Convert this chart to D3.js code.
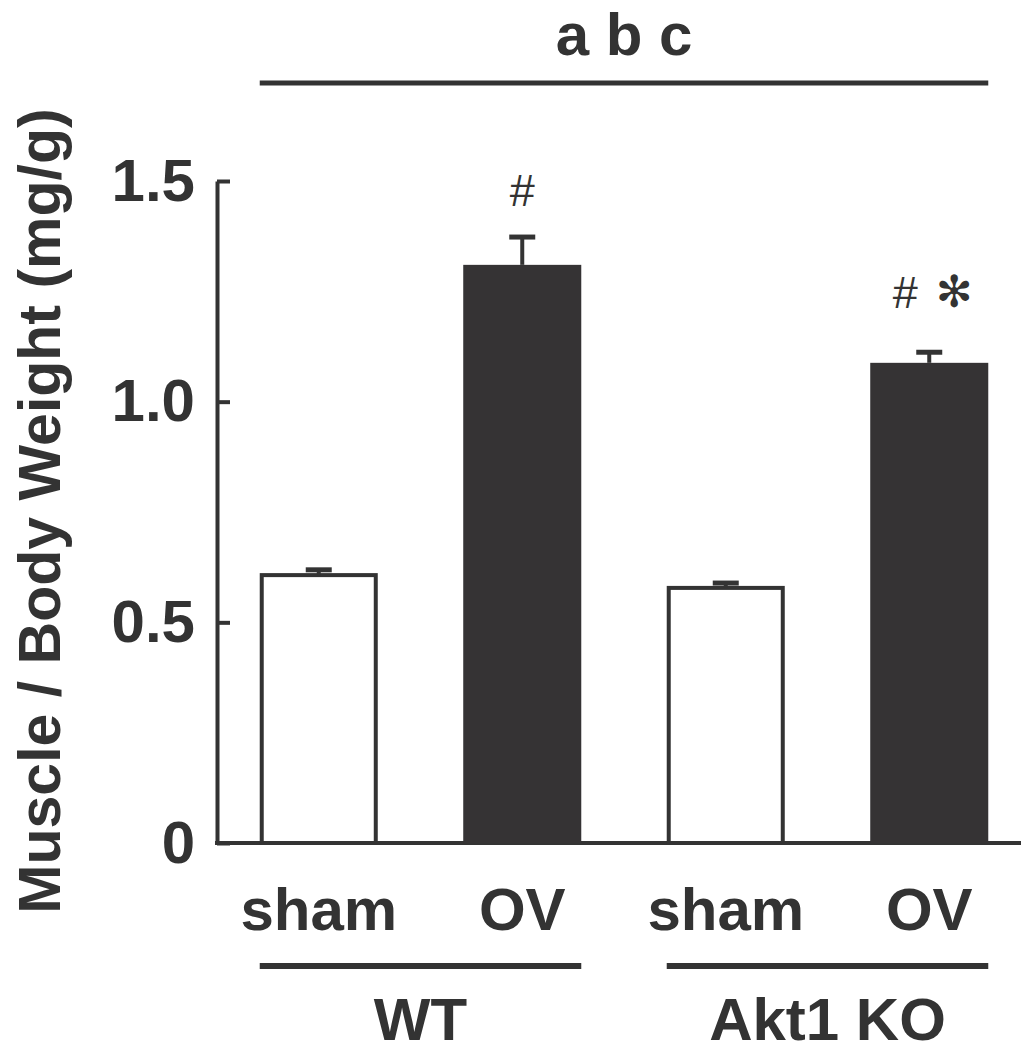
<!DOCTYPE html>
<html>
<head>
<meta charset="utf-8">
<script src="https://cdn.jsdelivr.net/npm/d3@7"></script>
<style>
  html, body { margin: 0; padding: 0; background: #fff; }
  svg { display: block; }
  text { font-family: "Liberation Sans", Arial, Helvetica, sans-serif; fill: #333; }
</style>
</head>
<body>
<svg id="chart" width="1021" height="1052"></svg>
<script>
// ---- data ----
const categories = ["WT sham", "WT OV", "Akt1 KO sham", "Akt1 KO OV"];
const conditionLabels = ["sham", "OV", "sham", "OV"];
const groups = ["WT", "Akt1 KO"];
const groupMembers = [["WT sham", "WT OV"], ["Akt1 KO sham", "Akt1 KO OV"]];
const values = [0.607, 1.31, 0.578, 1.088];
const errors = [0.012, 0.063, 0.011, 0.024];
const filled = [false, true, false, true];
const marks = ["", "#", "", "#"];
const stars = ["", "", "", "✻"];
const yTicks = [0, 0.5, 1.0, 1.5];
const yTickLabels = ["0", "0.5", "1.0", "1.5"];
const yLabel = "Muscle / Body Weight (mg/g)";
const topLabel = "a b c";

// ---- layout ----
const ink = "#333333";
const svg = d3.select("#chart");
const x = d3.scaleBand().domain(categories).range([217, 1031]).paddingInner(0.42).paddingOuter(0.21);
const y = d3.scaleLinear().domain([0, 1.5]).range([843, 181]);

// y axis
const yAxis = d3.axisLeft(y)
  .tickValues(yTicks)
  .tickFormat((d, i) => yTickLabels[i])
  .tickSizeInner(-13)
  .tickSizeOuter(0)
  .tickPadding(22);
const gy = svg.append("g").attr("transform", "translate(217,0)").call(yAxis);
gy.select(".domain").attr("stroke", ink).attr("stroke-width", 4);
gy.selectAll(".tick line").attr("stroke", ink).attr("stroke-width", 4);
gy.selectAll(".tick text")
  .attr("fill", ink)
  .style("font-size", "60px")
  .style("font-weight", "bold")
  .style("font-family", '"Liberation Sans", Arial, sans-serif');

// x axis baseline
svg.append("line")
  .attr("x1", 215).attr("x2", 1021)
  .attr("y1", y(0)).attr("y2", y(0))
  .attr("stroke", ink).attr("stroke-width", 4);

// bars
const bw = x.bandwidth();
svg.selectAll("rect.bar")
  .data(categories)
  .enter().append("rect")
  .attr("class", "bar")
  .attr("x", (d, i) => x(d) + (filled[i] ? 0 : 2))
  .attr("width", (d, i) => bw - (filled[i] ? 0 : 4))
  .attr("y", (d, i) => y(values[i]))
  .attr("height", (d, i) => y(0) - y(values[i]))
  .attr("fill", (d, i) => filled[i] ? "#353334" : "#fff")
  .attr("stroke", ink)
  .attr("stroke-width", (d, i) => filled[i] ? 0 : 4);

// error bars
const capW = 26;
categories.forEach((c, i) => {
  const cx = x(c) + bw / 2;
  svg.append("line")
    .attr("x1", cx).attr("x2", cx)
    .attr("y1", y(values[i])).attr("y2", y(values[i] + errors[i]))
    .attr("stroke", ink).attr("stroke-width", 4);
  svg.append("line")
    .attr("x1", cx - capW / 2).attr("x2", cx + capW / 2)
    .attr("y1", y(values[i] + errors[i])).attr("y2", y(values[i] + errors[i]))
    .attr("stroke", ink).attr("stroke-width", 5);
});

// significance marks
categories.forEach((c, i) => {
  const cx = x(c) + bw / 2;
  const top = y(values[i] + errors[i]);
  if (marks[i] && !stars[i]) {
    svg.append("text").attr("x", cx).attr("y", top - 31)
      .attr("text-anchor", "middle")
      .style("font-size", "45px").text(marks[i]);
  } else if (marks[i] && stars[i]) {
    svg.append("text").attr("x", cx - 24).attr("y", top - 44)
      .attr("text-anchor", "middle")
      .style("font-size", "45px").text(marks[i]);
    svg.append("text").attr("x", cx + 25).attr("y", top - 45)
      .attr("text-anchor", "middle")
      .style("font-family", '"DejaVu Sans", sans-serif')
      .style("font-size", "44px").text(stars[i]);
  }
});

// condition labels
svg.selectAll("text.cond")
  .data(categories)
  .enter().append("text")
  .attr("class", "cond")
  .attr("x", (d) => x(d) + bw / 2)
  .attr("y", 930)
  .attr("text-anchor", "middle")
  .style("font-size", "60px").style("font-weight", "bold")
  .text((d, i) => conditionLabels[i]);

// group lines and labels
groups.forEach((g, gi) => {
  const x1 = x(groupMembers[gi][0]);
  const x2 = x(groupMembers[gi][1]) + bw;
  svg.append("line").attr("x1", x1).attr("x2", x2)
    .attr("y1", 966).attr("y2", 966)
    .attr("stroke", ink).attr("stroke-width", 6);
  svg.append("text").attr("x", (x1 + x2) / 2).attr("y", 1040)
    .attr("text-anchor", "middle")
    .style("font-size", "60px").style("font-weight", "bold")
    .text(g);
});

// top bracket
const tx1 = x(categories[0]);
const tx2 = x(categories[categories.length - 1]) + bw;
svg.append("line").attr("x1", tx1).attr("x2", tx2)
  .attr("y1", 83).attr("y2", 83)
  .attr("stroke", ink).attr("stroke-width", 5);
svg.append("text").attr("x", (tx1 + tx2) / 2).attr("y", 55)
  .attr("text-anchor", "middle")
  .style("font-size", "60px").style("font-weight", "bold")
  .text(topLabel);

// y label
svg.append("text")
  .attr("transform", "translate(60,511) rotate(-90)")
  .attr("text-anchor", "middle")
  .style("font-size", "59px").style("font-weight", "bold")
  .text(yLabel);
</script>
</body>
</html>
